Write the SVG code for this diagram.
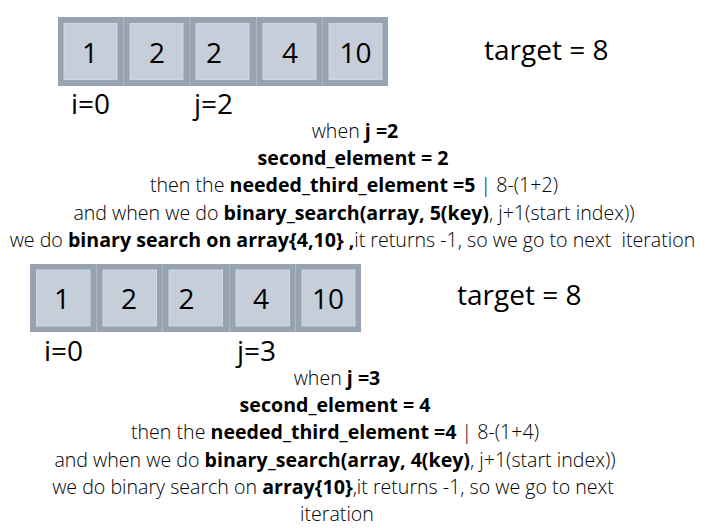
<svg xmlns="http://www.w3.org/2000/svg" width="708" height="528" viewBox="0 0 708 528">
<style>
.frame{fill:#97a3b0}
.div{stroke:#aeb8c3;stroke-width:1}
.cell{fill:#c6ced9;stroke:#d0d7e0;stroke-width:1}
.num{font-family:"Open Sans","Liberation Sans",sans-serif;font-size:28px;fill:#000;text-anchor:middle}
.big{font-family:"Open Sans","Liberation Sans",sans-serif;font-size:28px;fill:#000}
.t{font-family:"Open Sans","Liberation Sans",sans-serif;font-size:19.6px;font-weight:300;fill:#000;text-anchor:middle}
.b{font-weight:700}
</style>
<rect width="708" height="528" fill="#fff"/>
<g id="array1">
<rect class="frame" x="58" y="17" width="330" height="69"/>
<line class="div" x1="123.5" y1="17" x2="123.5" y2="86"/>
<line class="div" x1="190" y1="17" x2="190" y2="86"/>
<line class="div" x1="256.5" y1="17" x2="256.5" y2="86"/>
<line class="div" x1="322.5" y1="17" x2="322.5" y2="86"/>
<rect class="cell" x="64" y="23.5" width="53" height="56"/>
<rect class="cell" x="130" y="23.5" width="53" height="56"/>
<rect class="cell" x="196" y="23.5" width="53" height="56"/>
<rect class="cell" x="263" y="23.5" width="53" height="56"/>
<rect class="cell" x="329" y="23.5" width="53" height="56"/>
<text class="num" x="90" y="63">1</text>
<text class="num" x="157" y="63">2</text>
<text class="num" x="214" y="63">2</text>
<text class="num" x="290" y="63">4</text>
<text class="num" x="355.5" y="63">10</text>
</g>
<g id="target1"><text class="big" x="484" y="60">target = 8</text></g>
<g id="idx1">
<text class="big" x="71" y="114">i=0</text>
<text class="big" x="194" y="114">j=2</text>
</g>
<g id="explain1">
<text class="t" x="355" y="138">when <tspan class="b">j =2</tspan></text>
<text class="t" x="353" y="165"><tspan class="b">second_element = 2</tspan></text>
<text class="t" x="354" y="192">then the <tspan class="b">needed_third_element =5</tspan> | 8-(1+2)</text>
<text class="t" x="354" y="220">and when we do <tspan class="b">binary_search(array, 5(key)</tspan>, j+1(start index))</text>
<text class="t" x="352.5" y="247" xml:space="preserve">we do <tspan class="b">binary search on array{4,10} ,</tspan>it returns -1, so we go to next  iteration</text>
</g>
<g id="array2">
<rect class="frame" x="30" y="264" width="331" height="68"/>
<line class="div" x1="96.5" y1="264" x2="96.5" y2="332"/>
<line class="div" x1="162.5" y1="264" x2="162.5" y2="332"/>
<line class="div" x1="229.5" y1="264" x2="229.5" y2="332"/>
<line class="div" x1="295.5" y1="264" x2="295.5" y2="332"/>
<rect class="cell" x="36.5" y="270" width="53.5" height="56"/>
<rect class="cell" x="103" y="270" width="53.5" height="56"/>
<rect class="cell" x="169" y="270" width="53.5" height="56"/>
<rect class="cell" x="236" y="270" width="53.5" height="56"/>
<rect class="cell" x="302" y="270" width="53" height="56"/>
<text class="num" x="62" y="309">1</text>
<text class="num" x="129" y="309">2</text>
<text class="num" x="186.5" y="309">2</text>
<text class="num" x="261" y="309">4</text>
<text class="num" x="328" y="309">10</text>
</g>
<g id="target2"><text class="big" x="457" y="305">target = 8</text></g>
<g id="idx2">
<text class="big" x="44" y="361">i=0</text>
<text class="big" x="237" y="361">j=3</text>
</g>
<g id="explain2">
<text class="t" x="337" y="385">when <tspan class="b">j =3</tspan></text>
<text class="t" x="335" y="412"><tspan class="b">second_element = 4</tspan></text>
<text class="t" x="335" y="439">then the <tspan class="b">needed_third_element =4</tspan> | 8-(1+4)</text>
<text class="t" x="335" y="467">and when we do <tspan class="b">binary_search(array, 4(key)</tspan>, j+1(start index))</text>
<text class="t" x="333" y="494">we do binary search on <tspan class="b">array{10}</tspan>,it returns -1, so we go to next</text>
<text class="t" x="337" y="521">iteration</text>
</g>
</svg>
